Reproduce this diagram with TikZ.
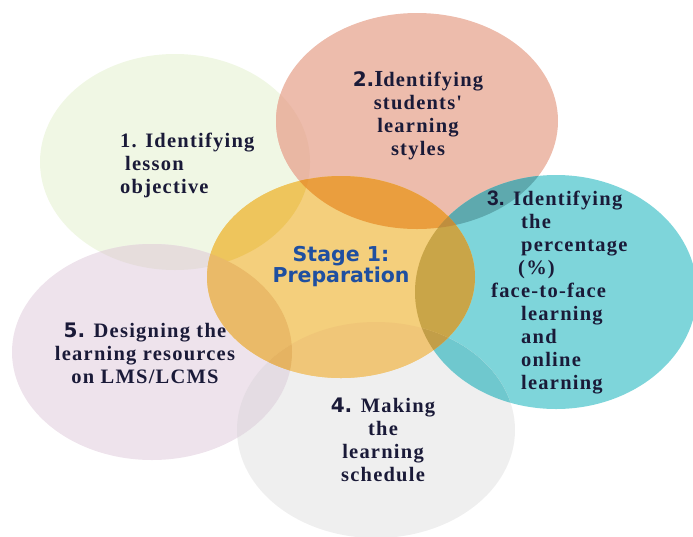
\documentclass[tikz,border=0pt]{standalone}
\usepackage{fontspec}
\setmainfont{Liberation Serif}
\newfontfamily\bodyfont[LetterSpace=6]{Liberation Serif}
\newfontfamily\numfont{Liberation Sans}
\newfontfamily\stagefont{DejaVu Sans}
% base colours
\definecolor{cG}{HTML}{F0F7E4}
\definecolor{cS}{HTML}{EDBCAC}
\definecolor{cT}{HTML}{7ED5DA}
\definecolor{cGr}{HTML}{EFEFEF}
\definecolor{cL}{HTML}{EEE3EC}
\definecolor{cC}{HTML}{F4CF7C}
% overlaps
\definecolor{oGS}{HTML}{E9B7A3}
\definecolor{oGC}{HTML}{EEC55C}
\definecolor{oGL}{HTML}{E6DDDC}
\definecolor{oSC}{HTML}{EA9E3E}
\definecolor{oST}{HTML}{5EA9AE}
\definecolor{oTC}{HTML}{C9A548}
\definecolor{oSTC}{HTML}{BF8E3E}
\definecolor{oCL}{HTML}{EABA68}
\definecolor{oCGr}{HTML}{F0C678}
\definecolor{oTGr}{HTML}{6FC8CE}
\definecolor{oLGr}{HTML}{E4DCE3}
\definecolor{oCLGr}{HTML}{E5B362}
\definecolor{oCTGr}{HTML}{C29E48}
\definecolor{oGSC}{HTML}{E89A38}
\definecolor{txtcol}{HTML}{1A1A38}
\definecolor{stagecol}{HTML}{1F4FA0}
\newcommand\EG{(175,162) ellipse [x radius=135pt, y radius=108pt]}
\newcommand\ES{(417,121) ellipse [x radius=141pt, y radius=108pt]}
\newcommand\ET{(556,292) ellipse [x radius=141pt, y radius=117pt]}
\newcommand\EGr{(376,430) ellipse [x radius=139pt, y radius=108pt]}
\newcommand\EL{(152,352) ellipse [x radius=140pt, y radius=108pt]}
\newcommand\EC{(341,277) ellipse [x radius=134pt, y radius=101pt]}
\tikzset{
  txt/.style={inner sep=0pt, text=txtcol, font=\bodyfont\bfseries\fontsize{20.5}{23}\selectfont},
  stagetxt/.style={inner sep=0pt, text=stagecol, align=center, font=\stagefont\bfseries\fontsize{20.5}{21}\selectfont},
}
\newcommand\num[1]{{\stagefont\bfseries\fontsize{20}{23}\selectfont #1}}
\begin{document}
\begin{tikzpicture}[x=1pt,y=-1pt]
\useasboundingbox (0,0) rectangle (693,536);
% base ellipses
\fill[cG] \EG;
\fill[cS] \ES;
\fill[cT] \ET;
\fill[cGr] \EGr;
\fill[cL] \EL;
\fill[cC] \EC;
% pairwise overlaps
\begin{scope}\clip \EG; \fill[oGS] \ES; \end{scope}
\begin{scope}\clip \EG; \fill[oGL] \EL; \end{scope}
\begin{scope}\clip \EG; \fill[oGC] \EC; \end{scope}
\begin{scope}\clip \ES; \fill[oST] \ET; \end{scope}
\begin{scope}\clip \ES; \fill[oSC] \EC; \end{scope}
\begin{scope}\clip \ET; \fill[oTGr] \EGr; \end{scope}
\begin{scope}\clip \ET; \fill[oTC] \EC; \end{scope}
\begin{scope}\clip \EL; \fill[oLGr] \EGr; \end{scope}
\begin{scope}\clip \EL; \fill[oCL] \EC; \end{scope}
\begin{scope}\clip \EGr; \fill[oCGr] \EC; \end{scope}
% triple overlaps
\begin{scope}\clip \ES; \clip \ET; \fill[oSTC] \EC; \end{scope}
\begin{scope}\clip \EG; \clip \ES; \fill[oGSC] \EC; \end{scope}
\begin{scope}\clip \EL; \clip \EGr; \fill[oCLGr] \EC; \end{scope}
\begin{scope}\clip \ET; \clip \EGr; \fill[oCTGr] \EC; \end{scope}
% texts
\node[txt, anchor=north west, align=left] (t1) at (120,133)
  {1. Identifying\\\hspace*{5pt}lesson\\objective};
\node[txt, anchor=north, align=center] (t2) at (418,71)
  {\num{2.}{\fontsize{23}{23}\selectfont I}dentifying\\students'\\learning\\styles};
\node[stagetxt, anchor=north] (t0) at (341,246) {Stage 1:\\Preparation};
\node[txt, anchor=north west, align=left] (t3) at (487,191)
  {{\numfont\fontsize{21}{23}\selectfont 3.} Identifying\\
   \hspace*{34pt}the\\
   \hspace*{34pt}percentage\\
   \hspace*{31pt}(\%)\\
   \hspace*{4pt}face-to-face\\
   \hspace*{34pt}learning\\
   \hspace*{34pt}and\\
   \hspace*{34pt}online\\
   \hspace*{34pt}learning};
\node[txt, anchor=north, align=center] (t4) at (383,398)
  {\num{4.} Making\\the\\learning\\schedule};
\node[txt, anchor=north, align=center] (t5) at (145,323)
  {\num{5.} Designing the\\learning resources\\on LMS/LCMS};
\end{tikzpicture}
\end{document}
